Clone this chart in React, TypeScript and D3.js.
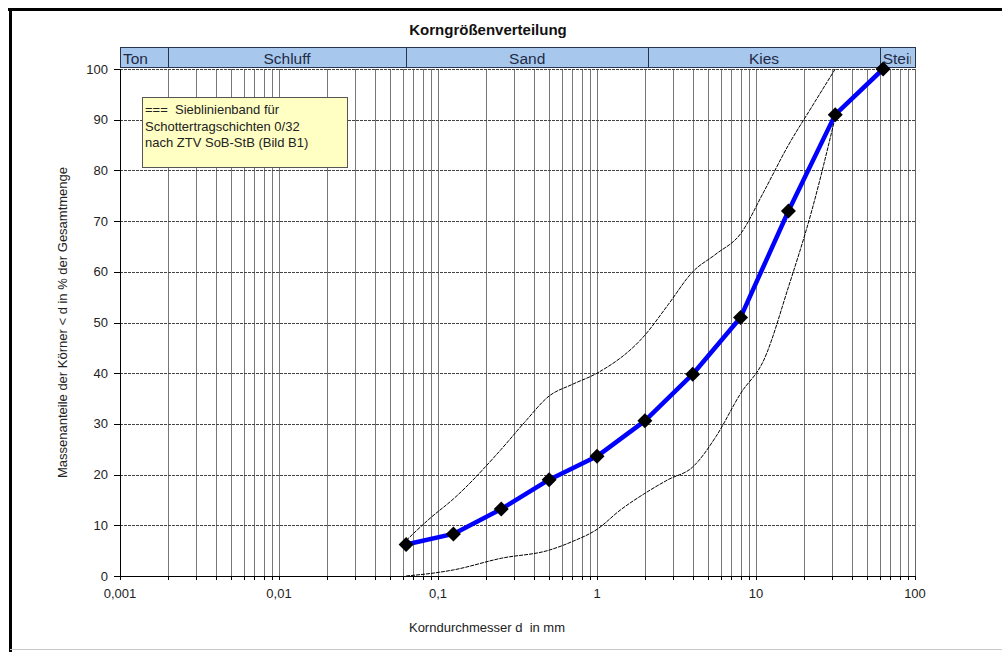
import React from "react";
import * as d3 from "d3";

// ---------- data ----------
const sieveSizes = [0.063, 0.125, 0.25, 0.5, 1, 2, 4, 8, 16, 31.5, 63];
const passing = [6.2, 8.3, 13.2, 19, 23.6, 30.6, 39.8, 51, 72, 91, 100];

const upperD = [0.063, 0.09, 0.125, 0.25, 0.35, 0.5, 0.7, 1, 2, 2.8, 4, 5.6, 8, 11.2, 16, 22.4, 31.5];
const upperV = [7, 11.5, 15.2, 25, 30.3, 35.5, 37.8, 40, 47.5, 53.5, 60, 63.5, 67.5, 75.8, 85, 92.5, 100];

const lowerD = [0.063, 0.1, 0.125, 0.25, 0.5, 0.7, 1, 1.4, 2, 2.8, 4, 5.6, 8, 11.2, 16, 22.4, 31.5];
const lowerV = [0, 0.7, 1.2, 3.5, 5.1, 6.8, 9.2, 13, 16.3, 19, 21.5, 27.5, 36, 42.6, 57, 72, 90.5];

const bandLabels = ["Ton", "Schluff", "Sand", "Kies", "Steine"];
const bandEdges = [0.001, 0.002, 0.063, 2.1, 60, 100];

const xTickValues = [0.001, 0.01, 0.1, 1, 10, 100];
const xTickLabels = ["0,001", "0,01", "0,1", "1", "10", "100"];
const yTickValues = [0, 10, 20, 30, 40, 50, 60, 70, 80, 90, 100];

const title = "Korngrößenverteilung";
const xTitle = "Korndurchmesser d  in mm";
const yTitle = "Massenanteile der Körner < d in % der Gesamtmenge";
const legendLines = ["===  Sieblinienband für", "Schottertragschichten 0/32", "nach ZTV SoB-StB (Bild B1)"];

// ---------- layout ----------
const W = 1002, H = 652;
const L = 120, R = 915, T = 69, B = 576;
const FONT = "Arial, 'Liberation Sans', sans-serif";

export default function App() {
  const x = d3.scaleLog().domain([0.001, 100]).range([L, R]);
  const y = d3.scaleLinear().domain([0, 100]).range([B, T]);

  const gridVals: number[] = [];
  for (let e = -3; e < 2; e++) {
    for (let m = 1; m <= 9; m++) {
      const v = m * Math.pow(10, e);
      if (v > 0.001 * 1.0001 && v < 100 * 0.9999) gridVals.push(v);
    }
  }
  const allTickVals = [0.001, ...gridVals, 100];

  const line = d3.line<[number, number]>().x(d => d[0]).y(d => d[1]);
  const smooth = d3.line<[number, number]>().x(d => d[0]).y(d => d[1]).curve(d3.curveMonotoneX);

  const dataPts: [number, number][] = sieveSizes.map((d, i) => [x(d), y(passing[i])]);
  const upPts: [number, number][] = upperD.map((d, i) => [x(d), y(upperV[i])]);
  const loPts: [number, number][] = lowerD.map((d, i) => [x(d), y(lowerV[i])]);

  const bandTop = 47, bandBot = 67;
  const px = (v: number) => Math.round(v) + 0.5;

  return (
    <svg width={W} height={H} style={{ position: "absolute", left: 0, top: 0, background: "#fff" }}
      fontFamily={FONT}>
      <rect x={0} y={0} width={W} height={H} fill="#fff" />
      {/* frame */}
      <line x1={8} y1={9.5} x2={W} y2={9.5} stroke="#000" strokeWidth={3} />
      <line x1={10.5} y1={8} x2={10.5} y2={H} stroke="#000" strokeWidth={3} />
      <line x1={10} y1={649.5} x2={W} y2={649.5} stroke="#c8c8c8" strokeWidth={1} />

      {/* title */}
      <text x={488} y={35} textAnchor="middle" fontSize={15} fontWeight="bold" fill="#111">{title}</text>

      {/* soil class band */}
      <defs>
        {bandLabels.map((lab, i) => (
          <clipPath id={"bc" + i} key={lab}>
            <rect x={x(bandEdges[i]) + 1} y={bandTop} width={x(bandEdges[i + 1]) - x(bandEdges[i]) - 5} height={bandBot - bandTop} />
          </clipPath>
        ))}
      </defs>
      {bandLabels.map((lab, i) => {
        const x0 = x(bandEdges[i]), x1 = x(bandEdges[i + 1]);
        const narrow = x1 - x0 < 60;
        return (
          <g key={lab}>
            <rect x={px(x0)} y={bandTop + 0.5} width={Math.round(x1) - Math.round(x0)} height={bandBot - bandTop}
              fill="#a7c7ec" stroke="#27344f" strokeWidth={1} />
            <text clipPath={`url(#bc${i})`} x={narrow ? x0 + 3 : (x0 + x1) / 2} y={bandBot - 3.5}
              textAnchor={narrow ? "start" : "middle"} fontSize={15.5} fill="#1f2b47">{lab}</text>
          </g>
        );
      })}

      {/* vertical grid */}
      {gridVals.map(v => (
        <line key={"vg" + v} x1={px(x(v))} x2={px(x(v))} y1={T} y2={B} stroke="#777" strokeWidth={1} />
      ))}
      <line x1={px(R)} x2={px(R)} y1={T} y2={B} stroke="#666" strokeWidth={1} />

      {/* horizontal grid */}
      {yTickValues.filter(v => v > 0).map(v => (
        <line key={"hg" + v} x1={L} x2={R} y1={px(y(v))} y2={px(y(v))} stroke="#444" strokeWidth={1}
          strokeDasharray="3,1" />
      ))}

      {/* axes */}
      <line x1={px(L)} x2={px(L)} y1={T} y2={B} stroke="#000" strokeWidth={1} />
      <line x1={L} x2={R + 1} y1={px(B)} y2={px(B)} stroke="#000" strokeWidth={1.2} />
      {yTickValues.map(v => (
        <g key={"yt" + v}>
          <line x1={L - 6} x2={L} y1={px(y(v))} y2={px(y(v))} stroke="#000" />
          <text x={L - 12} y={y(v) + 4.5} textAnchor="end" fontSize={13} fill="#222">{v}</text>
        </g>
      ))}
      {allTickVals.map(v => (
        <line key={"xt" + v} x1={px(x(v))} x2={px(x(v))} y1={B} y2={B + 4} stroke="#000" />
      ))}
      {xTickValues.map((v, i) => (
        <text key={"xl" + v} x={x(v)} y={598} textAnchor="middle" fontSize={13} fill="#222">{xTickLabels[i]}</text>
      ))}

      <text x={487} y={632} textAnchor="middle" fontSize={13} fill="#222" style={{ whiteSpace: "pre" }}>{xTitle}</text>
      <text transform={`translate(67,${(T + B) / 2}) rotate(-90)`} textAnchor="middle" fontSize={13} fill="#222">{yTitle}</text>

      {/* band curves */}
      <path d={smooth(upPts) || ""} fill="none" stroke="#000" strokeWidth={1} strokeDasharray="4,1" />
      <path d={smooth(loPts) || ""} fill="none" stroke="#000" strokeWidth={1} strokeDasharray="4,1" />

      {/* grading curve */}
      <path d={line(dataPts) || ""} fill="none" stroke="#0000ff" strokeWidth={4.5} strokeLinejoin="round" />
      {dataPts.map((p, i) => (
        <path key={"m" + i} d={`M${p[0]},${p[1] - 7.5}L${p[0] + 7.5},${p[1]}L${p[0]},${p[1] + 7.5}L${p[0] - 7.5},${p[1]}Z`}
          fill="#000" />
      ))}

      {/* legend */}
      <rect x={142.5} y={97.5} width={205} height={70} fill="#ffffc4" stroke="#555" strokeWidth={1} />
      {legendLines.map((t, i) => (
        <text key={t} x={145} y={114 + i * 16.7} fontSize={13} fill="#222" style={{ whiteSpace: "pre" }}>{t}</text>
      ))}
    </svg>
  );
}
